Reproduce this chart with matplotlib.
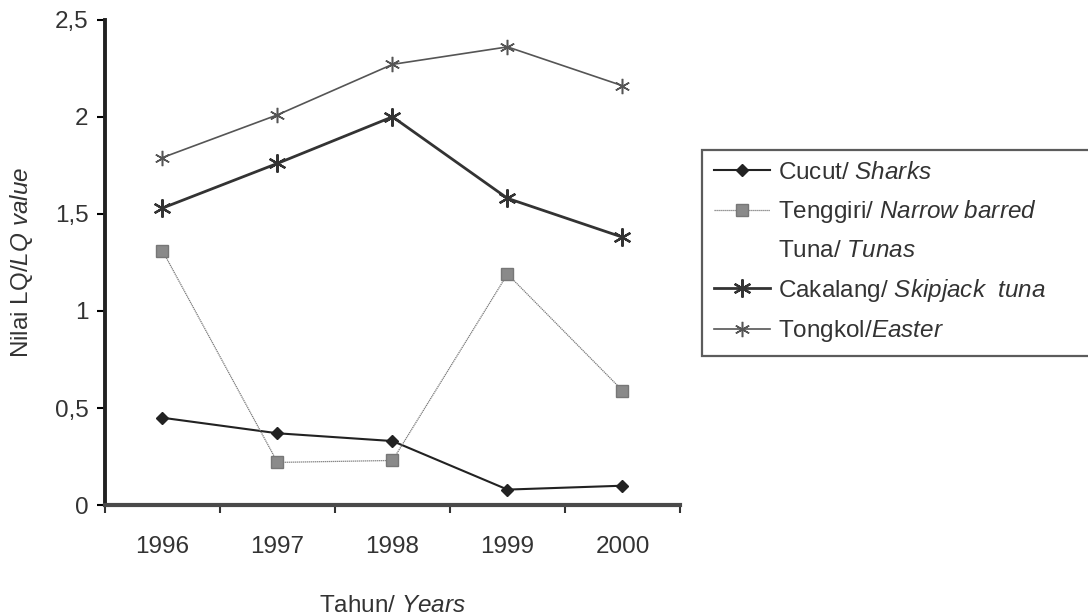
import matplotlib
matplotlib.use("Agg")
import matplotlib.pyplot as plt
from matplotlib.lines import Line2D

plt.rcParams['font.family'] = ['Liberation Sans', 'DejaVu Sans']
plt.rcParams['mathtext.fontset'] = 'custom'
plt.rcParams['mathtext.rm'] = 'Liberation Sans'
plt.rcParams['mathtext.it'] = 'Liberation Sans:italic'

# data
years = [1996, 1997, 1998, 1999, 2000]
cucut = [0.45, 0.37, 0.33, 0.08, 0.10]
tenggiri = [1.31, 0.22, 0.23, 1.19, 0.59]
cakalang = [1.53, 1.76, 2.00, 1.58, 1.38]
tongkol = [1.79, 2.01, 2.27, 2.36, 2.16]

yticks = [0, 0.5, 1, 1.5, 2, 2.5]
ytick_labels = ['0', '0,5', '1', '1,5', '2', '2,5']

fs = 17.5
txt = '#333333'
fig = plt.figure(figsize=(10.88, 6.16), dpi=100)
ax = fig.add_axes([0.0965, 0.180, 0.5285, 0.788])

l1, = ax.plot(years, cucut, color='#222222', lw=1.5, marker='D', ms=6)
l2, = ax.plot(years, tenggiri, color='#777777', lw=0.9, ls=(0, (1, 0.6)), marker='s', ms=9,
              mfc='#8a8a8a', mec='#777777')
l3, = ax.plot(years, cakalang, color='#333333', lw=2.0, marker=(6, 2, 0), ms=13, mew=1.6)
l4, = ax.plot(years, tongkol, color='#555555', lw=1.2, marker=(6, 2, 0), ms=11, mew=1.1)
blank = Line2D([], [], color='none')

ax.set_xlim(1995.5, 2000.5)
ax.set_ylim(0, 2.5)
ax.set_yticks(yticks)
ax.set_yticklabels(ytick_labels)
ax.set_xticks(years)
ax.set_xticks([1995.5, 1996.5, 1997.5, 1998.5, 1999.5, 2000.5], minor=True)
ax.tick_params(axis='x', which='major', length=0, pad=22, labelsize=fs, labelcolor=txt)
ax.tick_params(axis='x', which='minor', length=6, width=1.5, color='#333333')
ax.tick_params(axis='y', length=6, width=1.5, pad=6, labelsize=fs, labelcolor=txt)

for s in ['top', 'right']:
    ax.spines[s].set_visible(False)
ax.spines['left'].set_linewidth(2.8)
ax.spines['left'].set_color('#222222')
ax.spines['bottom'].set_linewidth(3.0)
ax.spines['bottom'].set_color('#4a4a4a')

ax.set_ylabel('Nilai LQ/$\\mathit{LQ\\ value}$', fontsize=fs, color=txt, labelpad=14)
ax.set_xlabel('Tahun/ $\\mathit{Years}$', fontsize=fs, color=txt, labelpad=27)

handles = [l1, l2, blank, l3, l4]
labels = ['Cucut/ $\\mathit{Sharks}$',
          'Tenggiri/ $\\mathit{Narrow\\ barred}$',
          'Tuna/ $\\mathit{Tunas}$',
          'Cakalang/ $\\mathit{Skipjack\\ \\ tuna}$',
          'Tongkol/$\\mathit{Easter}$']
leg = ax.legend(handles, labels, loc='upper left', bbox_to_anchor=(0.645, 0.425, 0.36, 0.332),
                bbox_transform=fig.transFigure, mode='expand', fontsize=fs,
                frameon=True, fancybox=False, edgecolor='#333333',
                handlelength=2.3, handletextpad=0.35, labelspacing=0.6,
                borderpad=0.5, borderaxespad=0)
leg.get_frame().set_linewidth(1.6)
for t in leg.get_texts():
    t.set_color(txt)

fig.savefig('out.png', dpi=100)
